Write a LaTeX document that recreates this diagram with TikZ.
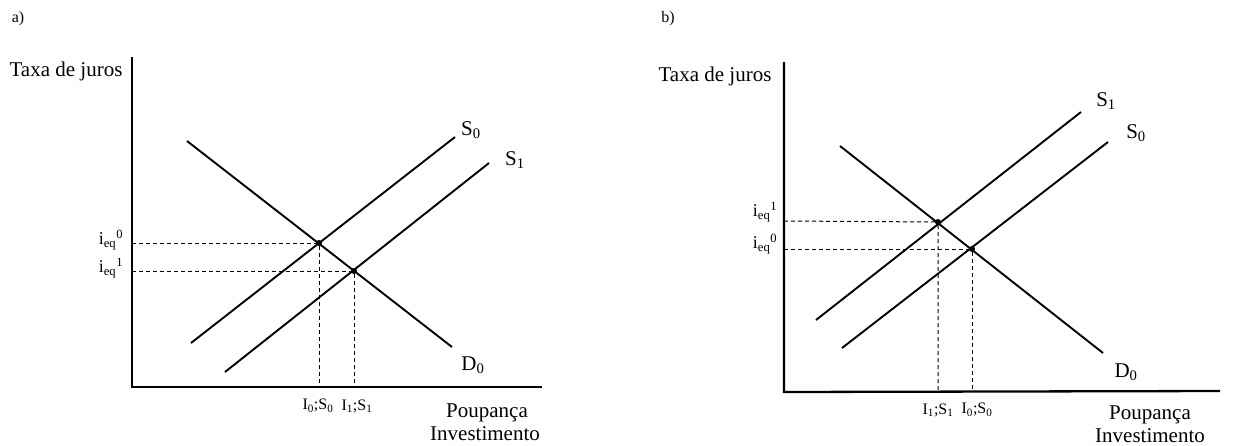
\documentclass[tikz,border=0pt]{standalone}
\usepackage{fontspec}
\setmainfont{Liberation Serif}
\begin{document}
\begin{tikzpicture}[x=1pt,y=-1pt,
  axis/.style={line width=2.3pt},
  curve/.style={line width=1.9pt},
  guide/.style={line width=1pt,dash pattern=on 4pt off 3pt},
  dot/.style={circle,fill=black,inner sep=0pt,minimum size=6pt},
  big/.style={font=\fontsize{21}{23}\selectfont,inner sep=0pt},
  small/.style={font=\fontsize{16}{18}\selectfont,inner sep=0pt},
  ilab/.style={font=\fontsize{18}{20}\selectfont,inner sep=0pt}]
\useasboundingbox (0,0) rectangle (1236,445);
% ---------------- panel a ----------------
\node[small] (la) at (18,19) {a)};
\node[big] (ya) at (66,71) {Taxa de juros};
\coordinate (aO) at (132,387);
\coordinate (aY) at (132,57);
\coordinate (aX) at (542,387);
\draw[axis] (aY) -- (aO) -- (aX);
\coordinate (aD1) at (187,141); \coordinate (aD2) at (452,347);
\coordinate (aS01) at (191,343); \coordinate (aS02) at (455,137);
\coordinate (aS11) at (225,372); \coordinate (aS12) at (489,163);
\draw[curve] (aD1) -- (aD2);
\draw[curve] (aS01) -- (aS02);
\draw[curve] (aS11) -- (aS12);
\node[big] (aS0l) at (471,130) {S\textsubscript{0}};
\node[big] (aS1l) at (515,160) {S\textsubscript{1}};
\node[big] (aD0l) at (473,365) {D\textsubscript{0}};
\node[dot] (aE0) at (319,243) {};
\node[dot] (aE1) at (354,271) {};
\coordinate (aH0) at (132,243); \coordinate (aH1) at (132,271);
\coordinate (aV0) at (319,387); \coordinate (aV1) at (354,387);
\draw[guide] (aH0) -- (aE0) -- (aV0);
\draw[guide] (aH1) -- (aE1) -- (aV1);
\node[ilab] (ai0) at (111,240) {i\textsubscript{eq}\textsuperscript{0}};
\node[ilab] (ai1) at (111,268) {i\textsubscript{eq}\textsuperscript{1}};
\node[small] (aI0) at (318,406) {I\textsubscript{0};S\textsubscript{0}};
\node[small] (aI1) at (357,406) {I\textsubscript{1};S\textsubscript{1}};
\node[big] (aP) at (487,413) {Poupança};
\node[big] (aInv) at (485,434) {Investimento};
% ---------------- panel b ----------------
\node[small] (lb) at (668,19) {b)};
\node[big] (yb) at (715,76) {Taxa de juros};
\coordinate (bO) at (784,392);
\coordinate (bY) at (784,62);
\coordinate (bX) at (1220,391);
\draw[axis] (bY) -- (bO) -- (bX);
\coordinate (bD1) at (840,146); \coordinate (bD2) at (1103,353);
\coordinate (bS11) at (816,320); \coordinate (bS12) at (1081,112);
\coordinate (bS01) at (842,348); \coordinate (bS02) at (1108,142);
\draw[curve] (bD1) -- (bD2);
\draw[curve] (bS11) -- (bS12);
\draw[curve] (bS01) -- (bS02);
\node[big] (bS1l) at (1106,101) {S\textsubscript{1}};
\node[big] (bS0l) at (1136,133) {S\textsubscript{0}};
\node[big] (bD0l) at (1126,372) {D\textsubscript{0}};
\node[dot] (bE1) at (938,222) {};
\node[dot] (bE0) at (972,249) {};
\coordinate (bH1) at (784,221); \coordinate (bH0) at (784,249);
\coordinate (bV1) at (938,391); \coordinate (bV0) at (972,391);
\draw[guide] (bH1) -- (bE1) -- (bV1);
\draw[guide] (bH0) -- (bE0) -- (bV0);
\node[ilab] (bi1) at (765,212) {i\textsubscript{eq}\textsuperscript{1}};
\node[ilab] (bi0) at (765,244) {i\textsubscript{eq}\textsuperscript{0}};
\node[small] (bI1) at (938,410) {I\textsubscript{1};S\textsubscript{1}};
\node[small] (bI0) at (977,410) {I\textsubscript{0};S\textsubscript{0}};
\node[big] (bP) at (1150,415) {Poupança};
\node[big] (bInv) at (1150,436) {Investimento};
\end{tikzpicture}
\end{document}
